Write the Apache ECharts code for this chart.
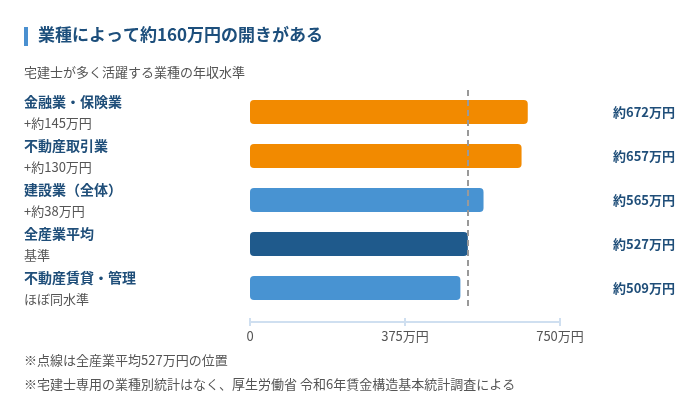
<!DOCTYPE html>
<html>
<head>
<meta charset="utf-8">
<script src="https://cdn.jsdelivr.net/npm/echarts@6/dist/echarts.min.js"></script>
<style>
  html, body { margin: 0; padding: 0; background: #fff; }
  #chart { width: 700px; height: 404px; }
</style>
</head>
<body>
<div id="chart"></div>
<script>
// データ
var categories = ['金融業・保険業', '不動産取引業', '建設業（全体）', '全産業平均', '不動産賃貸・管理'];
var subLabels = ['+約145万円', '+約130万円', '+約38万円', '基準', 'ほぼ同水準'];
var salaries = [672, 657, 565, 527, 509];
var barColors = ['#f28a00', '#f28a00', '#4893d2', '#1f5a8c', '#4893d2'];
var average = 527;
var xTicks = [0, 375, 750];

var font = '"Noto Sans CJK JP", "Noto Sans", sans-serif';
var axisColor = '#cfdff0';
var chart = echarts.init(document.getElementById('chart'));

var option = {
    backgroundColor: '#fff',
    textStyle: { fontFamily: font },
    animation: false,
    graphic: [
        { type: 'rect', left: 24, top: 27, shape: { width: 4, height: 19 }, style: { fill: '#4a90d0' } },
        { type: 'text', left: 38, top: 26, style: { text: '業種によって約160万円の開きがある', fontSize: 17, fontWeight: 'bold', fill: '#1d4f7c', fontFamily: font } },
        { type: 'text', left: 24, top: 66, style: { text: '宅建士が多く活躍する業種の年収水準', fontSize: 13, fill: '#555', fontFamily: font } },
        { type: 'text', left: 24, top: 354, style: { text: '※点線は全産業平均527万円の位置', fontSize: 13, fill: '#555', fontFamily: font } },
        { type: 'text', left: 24, top: 378, style: { text: '※宅建士専用の業種別統計はなく、厚生労働省 令和6年賃金構造基本統計調査による', fontSize: 13, fill: '#555', fontFamily: font } }
    ],
    grid: { left: 250, right: 140, top: 90, height: 220 },
    xAxis: [{
        type: 'value',
        min: 0,
        max: 750,
        interval: 375,
        offset: 12,
        axisLine: { show: true, lineStyle: { color: axisColor, width: 2 } },
        axisTick: { show: true, length: 4, lineStyle: { color: axisColor, width: 2 } },
        splitLine: { show: false },
        axisLabel: {
            color: '#555',
            fontSize: 13,
            margin: 8,
            customValues: xTicks,
            formatter: function (v) { return v === 0 ? '0' : v + '万円'; }
        }
    }, {
        // 目盛りの上半分
        type: 'value',
        position: 'bottom',
        min: 0,
        max: 750,
        interval: 375,
        offset: 12,
        axisLine: { show: false },
        axisTick: { show: true, inside: true, length: 4, lineStyle: { color: axisColor, width: 2 } },
        splitLine: { show: false },
        axisLabel: { show: false }
    }],
    yAxis: [{
        type: 'category',
        data: categories,
        inverse: true,
        axisLine: { show: false },
        axisTick: { show: false },
        axisLabel: {
            align: 'left',
            margin: 226,
            formatter: function (v, i) { return '{n|' + v + '}\n{s|' + subLabels[i] + '}'; },
            rich: {
                n: { fontSize: 14, fontWeight: 'bold', color: '#1f4e79', lineHeight: 22, fontFamily: font },
                s: { fontSize: 13, color: '#555', lineHeight: 20, fontFamily: font }
            }
        }
    }, {
        type: 'category',
        data: salaries.map(function (v) { return '約' + v + '万円'; }),
        inverse: true,
        position: 'right',
        axisLine: { show: false },
        axisTick: { show: false },
        axisLabel: {
            align: 'right',
            margin: 115,
            fontSize: 13,
            fontWeight: 'bold',
            color: '#1f4e79'
        }
    }],
    series: [{
        type: 'bar',
        data: salaries.map(function (v, i) { return { value: v, itemStyle: { color: barColors[i] } }; }),
        barWidth: 24,
        itemStyle: { borderRadius: 4 },
        markLine: {
            symbol: 'none',
            silent: true,
            label: { show: false },
            lineStyle: { color: '#999', type: [6, 4], width: 2 },
            data: [{ xAxis: average }]
        }
    }]
};

chart.setOption(option);
</script>
</body>
</html>
